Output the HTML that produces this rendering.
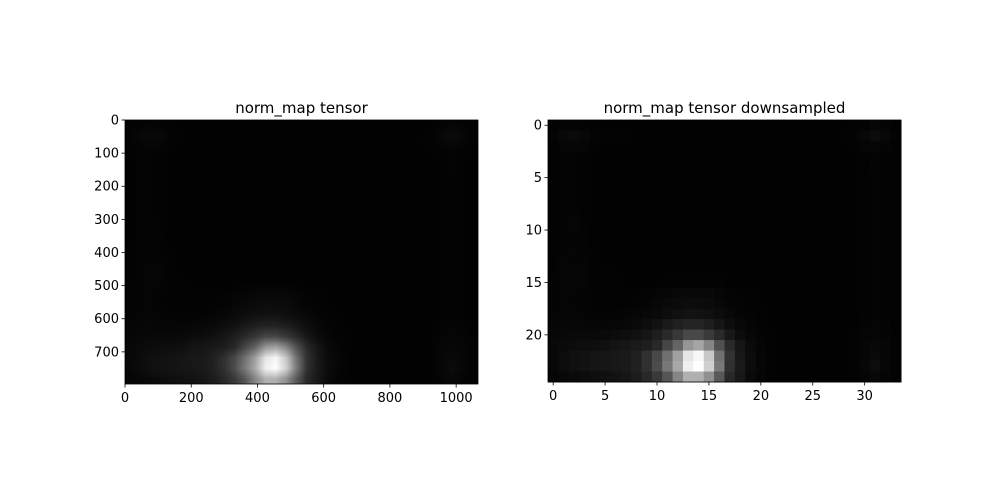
<!DOCTYPE html>
<html><head><meta charset="utf-8"><style>
body{margin:0;background:#fff;width:1000px;height:500px;overflow:hidden;position:relative;font-family:"DejaVu Sans","Liberation Sans",sans-serif}
#lwrap{position:absolute;left:125px;top:120px;width:353px;height:264px;overflow:hidden;background:#000}
canvas{position:absolute;left:0;top:0;width:353px;height:264px;image-rendering:auto}
svg{position:absolute;left:0;top:0}
text{font-family:"DejaVu Sans","Liberation Sans",sans-serif;fill:#000}
</style></head><body>
<div id="lwrap"><canvas id="lc" width="34" height="25"></canvas></div>
<svg id="s" width="1000" height="500"></svg>
<script>
const grid = [
[3,4,5,4,3,2,2,2,2,2,2,2,2,2,2,2,2,2,2,2,2,2,2,2,2,2,2,2,2,3,4,6,5,3],
[4,8,10,8,4,3,3,3,2,2,2,2,2,2,2,2,2,2,2,2,2,2,2,2,2,2,2,2,3,4,8,12,8,4],
[3,5,6,5,3,2,2,2,2,2,2,2,2,2,2,2,2,2,2,2,2,2,2,2,2,2,2,2,2,3,5,6,5,3],
[2,4,4,3,2,2,2,2,2,2,2,2,2,2,2,2,2,2,2,2,2,2,2,2,2,2,2,2,2,2,3,4,3,2],
[2,4,4,3,2,2,2,2,2,2,2,2,2,2,2,2,2,2,2,2,2,2,2,2,2,2,2,2,2,2,3,5,3,2],
[2,4,4,3,2,2,2,2,2,2,2,2,2,2,2,2,2,2,2,2,2,2,2,2,2,2,2,2,2,2,3,4,3,2],
[2,4,4,3,2,2,2,2,2,2,2,2,2,2,2,2,2,2,2,2,2,2,2,2,2,2,2,2,2,2,3,4,3,2],
[2,4,4,3,2,2,2,2,2,2,2,2,2,2,2,2,2,2,2,2,2,2,2,2,2,2,2,2,2,2,3,4,3,2],
[2,4,4,3,2,2,2,2,2,2,2,2,2,2,2,2,2,2,2,2,2,2,2,2,2,2,2,2,2,2,3,4,3,2],
[2,4,5,3,2,2,2,2,2,2,2,2,2,2,2,2,2,2,2,2,2,2,2,2,2,2,2,2,2,2,3,4,3,2],
[2,4,5,4,2,2,2,2,2,2,2,2,2,2,2,2,2,2,2,2,2,2,2,2,2,2,2,2,2,2,3,4,3,2],
[2,4,5,4,2,2,2,2,2,2,2,2,2,2,2,2,2,2,2,2,2,2,2,2,2,2,2,2,2,2,3,4,3,2],
[3,4,5,4,3,2,2,2,2,2,2,2,2,2,2,2,2,2,2,2,2,2,2,2,2,2,2,2,2,2,3,4,3,2],
[3,5,5,5,3,2,2,2,2,2,2,2,2,2,2,2,2,2,2,2,2,2,2,2,2,2,2,2,2,2,3,4,3,2],
[3,5,6,5,3,3,2,2,2,2,2,2,2,2,2,2,2,2,2,2,2,2,2,2,2,2,2,2,2,2,3,4,3,2],
[4,5,6,5,3,3,3,2,2,2,2,3,3,3,3,3,3,2,2,2,2,2,2,2,2,2,2,2,2,2,3,4,3,2],
[4,5,5,4,3,3,3,3,3,4,5,6,8,9,9,8,6,4,3,3,2,2,2,2,2,2,2,2,2,2,3,4,3,2],
[4,5,5,4,3,3,3,3,4,5,7,9,11,12,12,11,8,5,4,3,2,2,2,2,2,2,2,2,2,2,3,4,3,2],
[5,6,6,5,4,4,4,5,6,8,10,13,16,18,18,16,12,8,5,4,3,2,2,2,2,2,2,2,2,2,3,4,3,2],
[6,7,7,6,6,6,7,8,10,13,18,26,32,36,36,30,22,14,8,5,3,2,2,2,2,2,2,2,2,2,4,5,4,2],
[7,8,9,9,9,10,12,14,17,22,30,42,56,72,72,58,42,24,12,7,4,3,2,2,2,2,2,2,2,3,5,6,5,3],
[8,10,12,13,14,16,20,22,26,30,40,70,100,150,165,133,80,42,22,10,5,3,2,2,2,2,2,2,2,3,6,8,6,3],
[8,12,16,18,20,22,24,26,32,48,72,112,160,230,248,200,112,50,24,12,6,3,2,2,2,2,2,2,2,3,6,10,6,3],
[8,12,16,18,20,22,24,26,32,48,76,120,168,240,255,208,120,48,26,12,6,3,2,2,2,2,2,2,2,3,7,12,7,3],
[6,8,10,12,14,16,18,22,28,40,56,85,133,176,176,144,88,40,24,10,5,3,2,2,2,2,2,2,2,3,5,8,5,3]
];
const leftXTicks=[0,200,400,600,800,1000];
const leftYTicks=[0,100,200,300,400,500,600,700];
const rightXTicks=[0,5,10,15,20,25,30];
const rightYTicks=[0,5,10,15,20];
const NS="http://www.w3.org/2000/svg";
const s=document.getElementById('s');
function el(t,a,txt){const e=document.createElementNS(NS,t);for(const k in a)e.setAttribute(k,a[k]);if(txt!==undefined)e.textContent=txt;s.appendChild(e);return e;}
const rows=grid.length, cols=grid[0].length;
const lc=document.getElementById('lc');const ctx=lc.getContext('2d');
const id=ctx.createImageData(cols,rows);
for(let r=0;r<rows;r++)for(let c=0;c<cols;c++){const i=(r*cols+c)*4;const v=grid[r][c];id.data[i]=v;id.data[i+1]=v;id.data[i+2]=v;id.data[i+3]=255;}
ctx.putImageData(id,0,0);
const L={x0:125,y0:120,w:353,h:264,W:1066,H:797};
const lx=v=>L.x0+v*L.w/L.W, ly=v=>L.y0+v*L.h/L.H;
const R={x0:548,y0:120,w:353,h:262};
const cw=R.w/cols, ch=R.h/rows;
const rx=v=>R.x0+(v+0.5)*cw, ry=v=>R.y0+(v+0.5)*ch;
for(let r=0;r<rows;r++)for(let c=0;c<cols;c++){
  const v=grid[r][c];
  const e=el('rect',{x:R.x0+c*cw,y:R.y0+r*ch,width:cw+0.5,height:ch+0.5,fill:`rgb(${v},${v},${v})`});
  
  
}
function frame(x,y,w,h,name){const e=el('rect',{x:x,y:y,width:w,height:h,fill:'none',stroke:'#000','stroke-width':0.8});}
frame(L.x0,L.y0,L.w,L.h,'left-axes-frame');
frame(R.x0,R.y0,R.w,R.h,'right-axes-frame');
function xtick(x,yb,label,name){el('line',{x1:x,x2:x,y1:yb,y2:yb+3.5,stroke:'#000','stroke-width':0.8});const t=el('text',{x:x,y:yb+18,'text-anchor':'middle','font-size':13},label);}
function ytick(xl,y,label,name){el('line',{x1:xl-3.5,x2:xl,y1:y,y2:y,stroke:'#000','stroke-width':0.8});const t=el('text',{x:xl-6,y:y+4.5,'text-anchor':'end','font-size':13},label);}
leftXTicks.forEach(v=>xtick(lx(v),L.y0+L.h,v,'left-x-tick-label'));
leftYTicks.forEach(v=>ytick(L.x0,ly(v),v,'left-y-tick-label'));
rightXTicks.forEach(v=>xtick(rx(v),R.y0+R.h,v,'right-x-tick-label'));
rightYTicks.forEach(v=>ytick(R.x0,ry(v),v,'right-y-tick-label'));
let t=el('text',{x:L.x0+L.w/2,y:113,'text-anchor':'middle','font-size':15},'norm_map tensor');

t=el('text',{x:R.x0+R.w/2,y:113,'text-anchor':'middle','font-size':15},'norm_map tensor downsampled');

</script>
</body></html>
